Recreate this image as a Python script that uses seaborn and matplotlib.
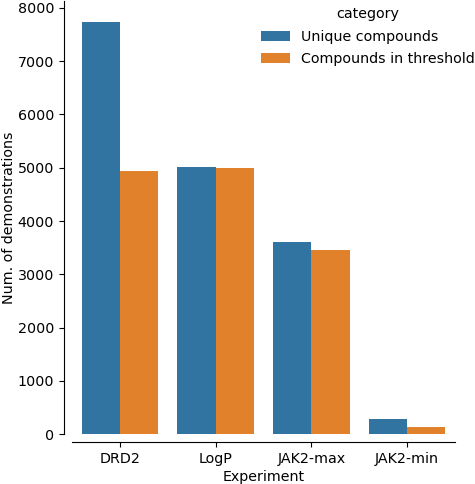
import pandas as pd
import matplotlib
matplotlib.use('Agg')
import matplotlib.pyplot as plt
import seaborn as sns

# valores
experiments = ['DRD2', 'LogP', 'JAK2-max', 'JAK2-min']
unique_compounds = [7735, 5015, 3610, 281]
in_threshold = [4940, 5003, 3450, 137]
categories = ['Unique compounds', 'Compounds in threshold']

df = pd.DataFrame({
    'Experiment': experiments * 2,
    'count': unique_compounds + in_threshold,
    'category': [categories[0]] * 4 + [categories[1]] * 4,
})

plt.rcParams['font.family'] = ['DejaVu Sans']
plt.rcParams['font.size'] = 10.3

fig, ax = plt.subplots(figsize=(4.75, 4.84), dpi=100)
sns.barplot(data=df, x='Experiment', y='count', hue='category', ax=ax,
            linewidth=0)

ax.set_ylabel('Num. of demonstrations')
ax.set_xlabel('Experiment')
ax.yaxis.set_label_coords(-0.147, 0.5)
ax.xaxis.set_label_coords(0.499, -0.083)
sns.despine(ax=ax, offset=6)

ax.legend(title='category', frameon=False, loc='upper right',
          bbox_to_anchor=(1.012, 0.997), bbox_transform=fig.transFigure,
          borderaxespad=0.0, labelspacing=0.6)

plt.subplots_adjust(left=0.152, right=0.958, bottom=0.103, top=0.997)
plt.savefig('out.png', dpi=100)
